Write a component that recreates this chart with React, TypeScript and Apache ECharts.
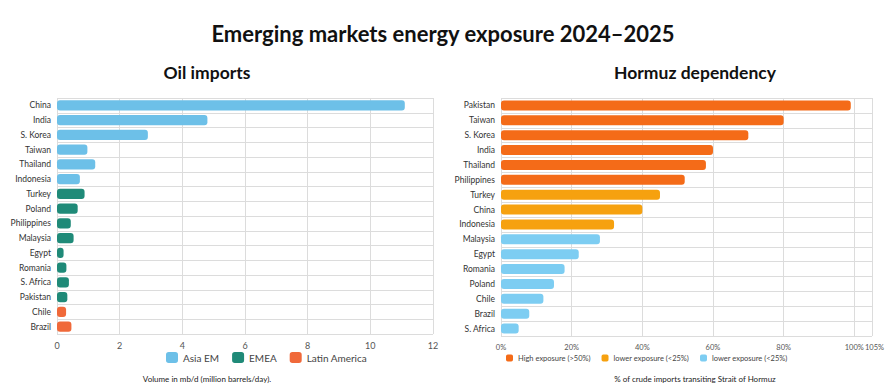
import React, { useEffect, useRef } from "react";
import * as echarts from "echarts";

const oilCategories = ["China", "India", "S. Korea", "Taiwan", "Thailand", "Indonesia", "Turkey", "Poland", "Philippines", "Malaysia", "Egypt", "Romania", "S. Africa", "Pakistan", "Chile", "Brazil"];
const oilValues = [11.1, 4.8, 2.9, 0.97, 1.22, 0.73, 0.88, 0.66, 0.44, 0.53, 0.21, 0.3, 0.38, 0.33, 0.29, 0.46];
const oilRegions = ["Asia EM", "Asia EM", "Asia EM", "Asia EM", "Asia EM", "Asia EM", "EMEA", "EMEA", "EMEA", "EMEA", "EMEA", "EMEA", "EMEA", "EMEA", "Latin America", "Latin America"];
const oilGroups = ["Asia EM", "EMEA", "Latin America"];
const oilTicks = [0, 2, 4, 6, 8, 10, 12];

const hormuzCategories = ["Pakistan", "Taiwan", "S. Korea", "India", "Thailand", "Philippines", "Turkey", "China", "Indonesia", "Malaysia", "Egypt", "Romania", "Poland", "Chile", "Brazil", "S. Africa"];
const hormuzValues = [99, 80, 70, 60, 58, 52, 45, 40, 32, 28, 22, 18, 15, 12, 8, 5];
const hormuzGroupIdx = [0, 0, 0, 0, 0, 0, 1, 1, 1, 2, 2, 2, 2, 2, 2, 2];
const hormuzGroups = ["High exposure (>50%)", "lower exposure (<25%)", "lower exposure (<25%) "];
const hormuzTicks = [0, 20, 40, 60, 80, 100];
const hormuzMax = 105;

const oilColors = ["#6DC0E8", "#1F8A78", "#F0693A"];
const hormuzColors = ["#F46B18", "#F6A10F", "#7DCDF2"];

const FONT = "Lato, 'Noto Sans', sans-serif";

export default function App() {
  const ref = useRef<HTMLDivElement>(null);
  useEffect(() => {
    if (!ref.current) return;
    const chart = echarts.init(ref.current, undefined, { renderer: "svg" });
    const gridLine = { show: true, lineStyle: { color: "#dcdcdc", width: 1 } };
    const catLabel = { color: "#333", fontSize: 8.5, fontFamily: FONT, margin: 6 };
    const valLabel = { color: "#555", fontSize: 9, fontFamily: FONT, margin: 7 };
    const pctLabel = { ...valLabel, fontSize: 7.5, formatter: "{value}%", hideOverlap: false, showMinLabel: true, showMaxLabel: true };

    const series: any[] = [];
    oilGroups.forEach((g, gi) => {
      series.push({
        name: g,
        type: "bar",
        xAxisIndex: 0,
        yAxisIndex: 0,
        stack: "oil",
        barWidth: "68%",
        itemStyle: { color: oilColors[gi], borderRadius: 3 },
        data: oilValues.map((v, i) => (oilRegions[i] === g ? v : "-")),
      });
    });
    hormuzGroups.forEach((g, gi) => {
      series.push({
        name: g,
        type: "bar",
        xAxisIndex: 1,
        yAxisIndex: 1,
        stack: "hormuz",
        barWidth: "68%",
        itemStyle: { color: hormuzColors[gi], borderRadius: 3 },
        data: hormuzValues.map((v, i) => (hormuzGroupIdx[i] === gi ? v : "-")),
      });
    });

    chart.setOption({
      animation: false,
      textStyle: { fontFamily: FONT },
      grid: [
        { left: 57, right: 454, top: 98, bottom: 57, containLabel: false },
        { left: 501, right: 12, top: 98, bottom: 55, containLabel: false },
      ],
      xAxis: [
        {
          type: "value",
          gridIndex: 0,
          min: oilTicks[0],
          max: oilTicks[oilTicks.length - 1],
          interval: 2,
          axisLine: { show: false },
          axisTick: { show: false },
          splitLine: gridLine,
          axisLabel: valLabel,
        },
        {
          type: "value",
          gridIndex: 1,
          position: "bottom",
          min: 0,
          max: hormuzMax,
          interval: 20,
          axisLine: { show: false },
          axisTick: { show: false },
          splitLine: gridLine,
          axisLabel: { ...pctLabel, customValues: hormuzTicks },
        },
        {
          type: "value",
          gridIndex: 1,
          position: "bottom",
          min: 0,
          max: hormuzMax,
          axisLine: { show: false },
          axisTick: { show: false },
          splitLine: { show: false },
          axisLabel: { ...pctLabel, customValues: [hormuzMax], padding: [0, 0, 0, 5] },
        },
      ],
      yAxis: [
        {
          type: "category",
          gridIndex: 0,
          inverse: true,
          data: oilCategories,
          axisLine: { show: false },
          axisTick: { show: false },
          splitLine: gridLine,
          axisLabel: catLabel,
        },
        {
          type: "category",
          gridIndex: 1,
          inverse: true,
          data: hormuzCategories,
          axisLine: { show: false },
          axisTick: { show: false },
          splitLine: gridLine,
          axisLabel: catLabel,
        },
      ],
      legend: [
        {
          data: oilGroups,
          left: 161,
          top: 347,
          icon: "roundRect",
          itemWidth: 12,
          itemHeight: 11,
          itemGap: 13,
          textStyle: { fontSize: 10, color: "#444", fontFamily: FONT },
          selectedMode: false,
        },
        {
          data: hormuzGroups,
          left: 501,
          top: 349,
          icon: "roundRect",
          itemWidth: 7,
          itemHeight: 7,
          itemGap: 11,
          formatter: (n: string) => n.trim(),
          textStyle: { fontSize: 7.5, color: "#444", fontFamily: FONT },
          selectedMode: false,
        },
      ],
      graphic: [
        {
          type: "text",
          x: 443,
          y: 33,
          style: { text: "Emerging markets energy exposure 2024–2025", fontSize: 22, fontWeight: "bold", fill: "#111", textAlign: "center", textVerticalAlign: "middle", fontFamily: FONT },
        },
        {
          type: "text",
          x: 207,
          y: 72,
          style: { text: "Oil imports", fontSize: 17.5, fontWeight: "bold", fill: "#111", textAlign: "center", textVerticalAlign: "middle", fontFamily: FONT },
        },
        {
          type: "text",
          x: 695,
          y: 72,
          style: { text: "Hormuz dependency", fontSize: 17.5, fontWeight: "bold", fill: "#111", textAlign: "center", textVerticalAlign: "middle", fontFamily: FONT },
        },
        {
          type: "text",
          x: 207,
          y: 379,
          style: { text: "Volume in mb/d (million barrels/day).", fontSize: 8, fill: "#222", textAlign: "center", textVerticalAlign: "middle", fontFamily: FONT },
        },
        {
          type: "text",
          x: 695,
          y: 379,
          style: { text: "% of crude imports transiting Strait of Hormuz", fontSize: 8, fill: "#222", textAlign: "center", textVerticalAlign: "middle", fontFamily: FONT },
        },
      ],
      series,
    });
    return () => chart.dispose();
  }, []);
  return <div ref={ref} style={{ width: 887, height: 391, position: "absolute", left: 0, top: 0, background: "#fff" }} />;
}
